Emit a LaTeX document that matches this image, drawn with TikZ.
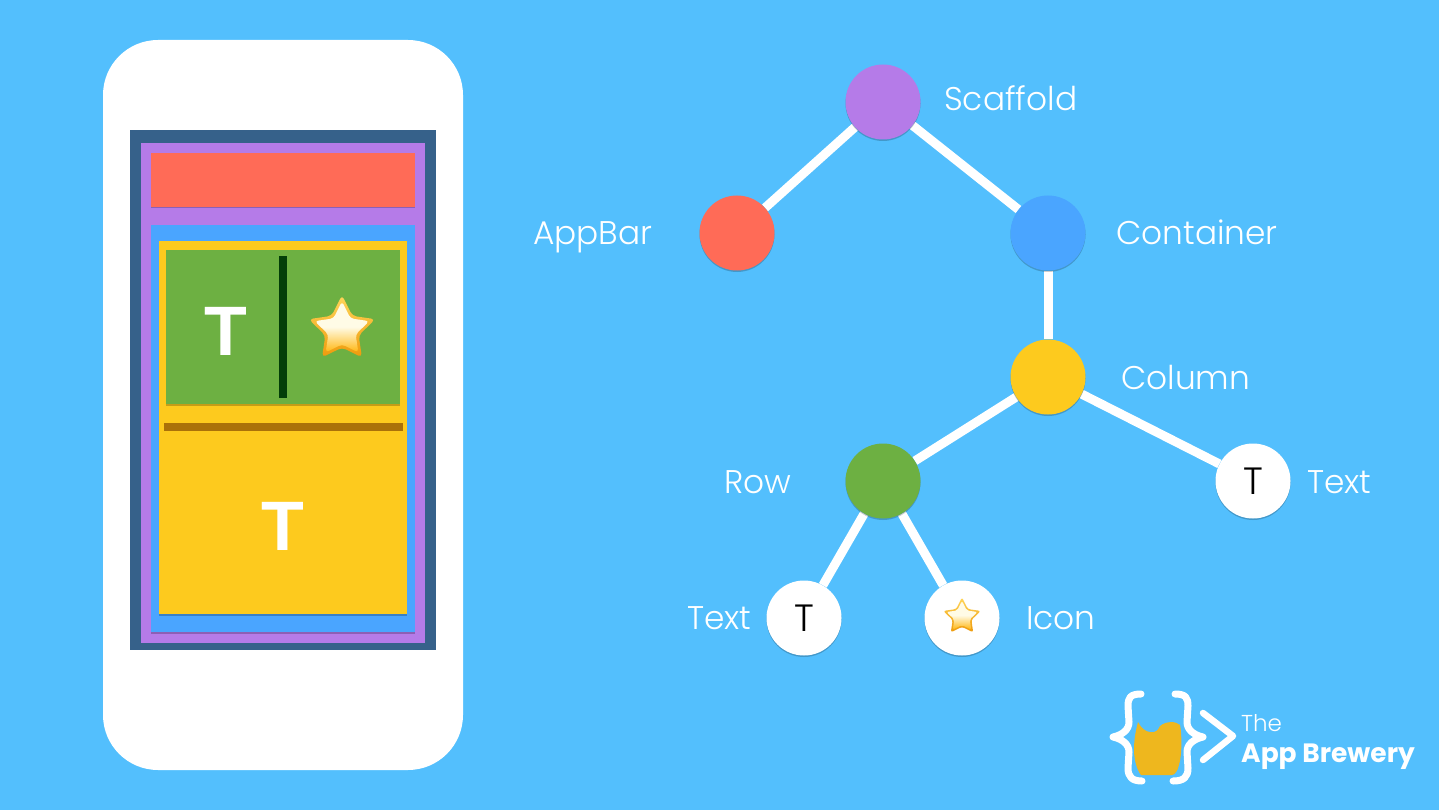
\documentclass[tikz,border=0pt]{standalone}
\usepackage{fontspec}
\setmainfont{Poppins Light}
\newfontfamily\boldT{Liberation Sans Bold}
\newfontfamily\logobold{Poppins Bold}
\usetikzlibrary{backgrounds}
\definecolor{sky}{HTML}{53BFFD}
\definecolor{navy}{HTML}{36618A}
\definecolor{purp}{HTML}{B57BE8}
\definecolor{redd}{HTML}{FF6B57}
\definecolor{bluu}{HTML}{4AA5FF}
\definecolor{yell}{HTML}{FDCA1E}
\definecolor{gren}{HTML}{6DB042}
\definecolor{dgreen}{HTML}{033E08}
\definecolor{brwn}{HTML}{AA7109}
\definecolor{beer}{HTML}{EEB71E}
\definecolor{starA}{HTML}{FFFBE6}
\definecolor{starB}{HTML}{FFB60F}
\definecolor{starC}{HTML}{FFD65A}
\definecolor{starE}{HTML}{EE9A0C}
\tikzset{
  x=1pt,y=-1pt,
  box/.style={preaction={fill=black,opacity=.22,transform canvas={yshift=-1.5pt}}},
  tree/.style={circle,minimum size=75pt,inner sep=0pt,
    preaction={fill=black,opacity=.2,transform canvas={yshift=-1.5pt}}},
  lbl/.style={text=white,font=\fontsize{32.8}{36}\selectfont,inner sep=0pt,anchor=base west},
  edge/.style={draw=white,line width=9pt},
  bigT/.style={text=white,font=\boldT\fontsize{70}{70}\selectfont,inner sep=0pt},
  smallT/.style={text=black,font=\fontsize{38}{38}\selectfont}
}
\newcommand\starpts[1]{%
  (270:#1) -- (306:#1*0.5) -- (342:#1) -- (18:#1*0.5) -- (54:#1*0.97) -- (90:#1*0.5)
    -- (126:#1*0.97) -- (162:#1*0.5) -- (198:#1) -- (234:#1*0.5) -- cycle}
\newcommand\starshape[3]{% cx cy r
  \begin{scope}[shift={(#1,#2)}]
  \path[rounded corners=#3*0.12pt,line join=round,top color=starC,bottom color=starE]
    \starpts{#3};
  \path[rounded corners=#3*0.1pt,top color=starA,bottom color=starB,middle color=starA]
    \starpts{#3*0.82};
  \end{scope}}
\begin{document}
\begin{tikzpicture}
\useasboundingbox (0,0) rectangle (1439,810);
% phone
\fill[white,rounded corners=55pt] (103,40) rectangle (463,770);
\fill[navy] (130,130) rectangle (436,650);
\fill[purp] (141,143) rectangle (425,643);
\path[box,fill=redd] (151,153) rectangle (415,207);
\path[box,fill=bluu] (151,225) rectangle (415,632);
\path[box,fill=yell] (159,241) rectangle (407,614);
\path[box,fill=gren] (166,250) rectangle (400,404);
\fill[dgreen] (279,256) rectangle (287,398);
\fill[brwn] (164,423) rectangle (403,431);
\node[bigT] (t1) at (225.5,331) {T};
\node[bigT] (t2) at (283,526) {T};
\starshape{342}{330}{35}
% tree
\node[tree,fill=purp] (scaffold) at (883,102) {};
\node[tree,fill=redd] (appbar) at (737,233) {};
\node[tree,fill=bluu] (container) at (1048,233) {};
\node[tree,fill=yell] (column) at (1048,377) {};
\node[tree,fill=gren] (row) at (883,481) {};
\node[tree,fill=white,smallT] (textr) at (1253,481) {T};
\node[tree,fill=white,smallT] (textl) at (804,618) {T};
\node[tree,fill=white] (icon) at (962,618) {};
\starshape{962}{617}{19.7}
\begin{scope}[on background layer]
\fill[sky] (0,0) rectangle (1439,810);
\draw[edge] (scaffold) -- (appbar);
\draw[edge] (scaffold) -- (container);
\draw[edge] (container) -- (column);
\draw[edge] (column) -- (row);
\draw[edge] (column) -- (textr);
\draw[edge] (row) -- (textl);
\draw[edge] (row) -- (icon);
\end{scope}
\node[lbl] (l1) at (944,111) {Scaffold};
\node[lbl] (l2) at (533,244) {AppBar};
\node[lbl] (l3) at (1116,244) {Container};
\node[lbl] (l4) at (1121,389) {Column};
\node[lbl] (l5) at (724,493) {Row};
\node[lbl] (l6) at (1307,493) {Text};
\node[lbl] (l7) at (687,629) {Text};
\node[lbl] (l8) at (1026,629) {Icon};
% logo
\begin{scope}[draw=white,line width=7pt,line cap=round,line join=round]
\draw (1141,694) .. controls (1130,694) and (1128,698) .. (1128,706) -- (1129,722)
  .. controls (1129,730) and (1122,735) .. (1113,737)
  .. controls (1122,739) and (1129,744) .. (1129,752) -- (1128,768)
  .. controls (1128,777) and (1132,781) .. (1142,781);
\draw (1175,694) .. controls (1186,694) and (1188,698) .. (1188,706) -- (1187,722)
  .. controls (1187,730) and (1194,735) .. (1203,737)
  .. controls (1194,739) and (1187,744) .. (1187,752) -- (1188,768)
  .. controls (1188,777) and (1184,781) .. (1173,781);
\draw[line width=6.5pt] (1203,713) -- (1233,736) -- (1203,760);
\end{scope}
\fill[beer] (1138,722) .. controls (1141,728) and (1146,732) .. (1150,732)
  .. controls (1156,733) and (1158,730) .. (1160,726)
  .. controls (1166,721) and (1176,721) .. (1180,725)
  .. controls (1182,735) and (1182,755) .. (1179,765)
  .. controls (1178,770) and (1175,775) .. (1172,775) -- (1141,775)
  .. controls (1137,770) and (1134,760) .. (1134,750)
  .. controls (1134,738) and (1136,730) .. (1138,722) -- cycle;
\node[text=white,inner sep=0pt,anchor=base west,font=\fontsize{23}{24}\selectfont] (lg1) at (1241,731) {The};
\node[text=white,inner sep=0pt,anchor=base west,font=\logobold\fontsize{26.5}{27}\selectfont] (lg2) at (1241,762) {App Brewery};
\end{tikzpicture}
\end{document}
